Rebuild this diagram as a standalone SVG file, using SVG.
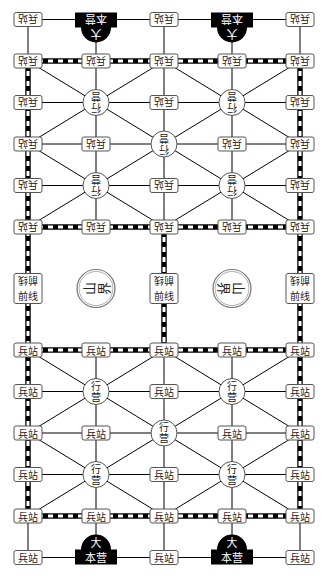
<svg xmlns="http://www.w3.org/2000/svg" width="330" height="578" viewBox="0 0 330 578">
<defs>
<style>
.ln{stroke:#000;stroke-width:1;fill:none}
.rb{stroke:#000;stroke-width:5.5;fill:none}
.rw{stroke:#fff;stroke-width:3;stroke-dasharray:5 5;fill:none}
.box{fill:#fff;stroke:#555;stroke-width:1}
.camp{fill:#fff;stroke:#555;stroke-width:1}
.hq{fill:#000}
.mo{fill:#fff;stroke:#777;stroke-width:1.2}
.mi{fill:none;stroke:#999;stroke-width:0.8}
.t{font-family:"Noto Sans CJK SC","Noto Sans",sans-serif;font-size:10px;text-anchor:middle;dominant-baseline:central;fill:#222}
.tc{font-family:"Noto Sans CJK SC","Noto Sans",sans-serif;font-size:10px;text-anchor:middle;writing-mode:vertical-rl;letter-spacing:1px;fill:#222}
.tw{font-family:"Noto Sans CJK SC","Noto Sans",sans-serif;font-size:11px;text-anchor:middle;dominant-baseline:central;fill:#fff}
.tm{font-family:"Noto Sans CJK SC","Noto Sans",sans-serif;font-size:13px;text-anchor:middle;dominant-baseline:central;fill:#222}
</style>
</defs>
<rect width="330" height="578" fill="#fff"/>
<g id="connectors">
<line class="ln" x1="28" y1="19.5" x2="300" y2="19.5"/>
<line class="ln" x1="28" y1="102.5" x2="300" y2="102.5"/>
<line class="ln" x1="28" y1="144" x2="300" y2="144"/>
<line class="ln" x1="28" y1="185.5" x2="300" y2="185.5"/>
<line class="ln" x1="28" y1="19.5" x2="28" y2="61"/>
<line class="ln" x1="96" y1="19.5" x2="96" y2="61"/>
<line class="ln" x1="164" y1="19.5" x2="164" y2="61"/>
<line class="ln" x1="232" y1="19.5" x2="232" y2="61"/>
<line class="ln" x1="300" y1="19.5" x2="300" y2="61"/>
<line class="ln" x1="96" y1="61" x2="96" y2="227"/>
<line class="ln" x1="164" y1="61" x2="164" y2="227"/>
<line class="ln" x1="232" y1="61" x2="232" y2="227"/>
<line class="ln" x1="28" y1="61" x2="300" y2="227"/>
<line class="ln" x1="300" y1="61" x2="28" y2="227"/>
<line class="ln" x1="164" y1="61" x2="28" y2="144"/>
<line class="ln" x1="164" y1="61" x2="300" y2="144"/>
<line class="ln" x1="28" y1="144" x2="164" y2="227"/>
<line class="ln" x1="300" y1="144" x2="164" y2="227"/>
<line class="ln" x1="28" y1="391.5" x2="300" y2="391.5"/>
<line class="ln" x1="28" y1="433" x2="300" y2="433"/>
<line class="ln" x1="28" y1="474.5" x2="300" y2="474.5"/>
<line class="ln" x1="28" y1="557.5" x2="300" y2="557.5"/>
<line class="ln" x1="28" y1="516" x2="28" y2="557.5"/>
<line class="ln" x1="96" y1="516" x2="96" y2="557.5"/>
<line class="ln" x1="164" y1="516" x2="164" y2="557.5"/>
<line class="ln" x1="232" y1="516" x2="232" y2="557.5"/>
<line class="ln" x1="300" y1="516" x2="300" y2="557.5"/>
<line class="ln" x1="96" y1="350" x2="96" y2="516"/>
<line class="ln" x1="164" y1="350" x2="164" y2="516"/>
<line class="ln" x1="232" y1="350" x2="232" y2="516"/>
<line class="ln" x1="28" y1="350" x2="300" y2="516"/>
<line class="ln" x1="300" y1="350" x2="28" y2="516"/>
<line class="ln" x1="164" y1="350" x2="28" y2="433"/>
<line class="ln" x1="164" y1="350" x2="300" y2="433"/>
<line class="ln" x1="28" y1="433" x2="164" y2="516"/>
<line class="ln" x1="300" y1="433" x2="164" y2="516"/>
<line class="rb" x1="28" y1="61" x2="300" y2="61"/>
<line class="rw" x1="28" y1="61" x2="300" y2="61"/>
<line class="rb" x1="28" y1="227" x2="300" y2="227"/>
<line class="rw" x1="28" y1="227" x2="300" y2="227"/>
<line class="rb" x1="28" y1="350" x2="300" y2="350"/>
<line class="rw" x1="28" y1="350" x2="300" y2="350"/>
<line class="rb" x1="28" y1="516" x2="300" y2="516"/>
<line class="rw" x1="28" y1="516" x2="300" y2="516"/>
<line class="rb" x1="28" y1="61" x2="28" y2="516"/>
<line class="rw" x1="28" y1="61" x2="28" y2="516"/>
<line class="rb" x1="300" y1="61" x2="300" y2="516"/>
<line class="rw" x1="300" y1="61" x2="300" y2="516"/>
<line class="rb" x1="164" y1="227" x2="164" y2="350"/>
<line class="rw" x1="164" y1="227" x2="164" y2="350"/>
</g>

<g id="t-r1c1"><rect class="box" x="14" y="12.5" width="28" height="14" rx="2"/><text class="t" x="28" y="19.5" transform="rotate(180 28 19.5)">兵站</text></g>
<g id="t-hq1" transform="rotate(180 96 19.5)"><path class="hq" d="M75 26.5V11.5H81A15 15 0 0 1 111 11.5H117V26.5Z"/><text class="tw" x="96" y="4">大</text><text class="tw" x="96" y="19">本营</text></g>
<g id="t-r1c3"><rect class="box" x="150" y="12.5" width="28" height="14" rx="2"/><text class="t" x="164" y="19.5" transform="rotate(180 164 19.5)">兵站</text></g>
<g id="t-hq2" transform="rotate(180 232 19.5)"><path class="hq" d="M211 26.5V11.5H217A15 15 0 0 1 247 11.5H253V26.5Z"/><text class="tw" x="232" y="4">大</text><text class="tw" x="232" y="19">本营</text></g>
<g id="t-r1c5"><rect class="box" x="286" y="12.5" width="28" height="14" rx="2"/><text class="t" x="300" y="19.5" transform="rotate(180 300 19.5)">兵站</text></g>

<g id="t-r2c1"><rect class="box" x="14" y="54" width="28" height="14" rx="2"/><text class="t" x="28" y="61" transform="rotate(180 28 61)">兵站</text></g>
<g id="t-r2c2"><rect class="box" x="82" y="54" width="28" height="14" rx="2"/><text class="t" x="96" y="61" transform="rotate(180 96 61)">兵站</text></g>
<g id="t-r2c3"><rect class="box" x="150" y="54" width="28" height="14" rx="2"/><text class="t" x="164" y="61" transform="rotate(180 164 61)">兵站</text></g>
<g id="t-r2c4"><rect class="box" x="218" y="54" width="28" height="14" rx="2"/><text class="t" x="232" y="61" transform="rotate(180 232 61)">兵站</text></g>
<g id="t-r2c5"><rect class="box" x="286" y="54" width="28" height="14" rx="2"/><text class="t" x="300" y="61" transform="rotate(180 300 61)">兵站</text></g>

<g id="t-r3c1"><rect class="box" x="14" y="95.5" width="28" height="14" rx="2"/><text class="t" x="28" y="102.5" transform="rotate(180 28 102.5)">兵站</text></g>
<g id="t-r3c2" transform="rotate(180 96 102.5)"><circle class="camp" cx="96" cy="102.5" r="13"/><text class="tc" x="96" y="103">行营</text></g>
<g id="t-r3c3"><rect class="box" x="150" y="95.5" width="28" height="14" rx="2"/><text class="t" x="164" y="102.5" transform="rotate(180 164 102.5)">兵站</text></g>
<g id="t-r3c4" transform="rotate(180 232 102.5)"><circle class="camp" cx="232" cy="102.5" r="13"/><text class="tc" x="232" y="103">行营</text></g>
<g id="t-r3c5"><rect class="box" x="286" y="95.5" width="28" height="14" rx="2"/><text class="t" x="300" y="102.5" transform="rotate(180 300 102.5)">兵站</text></g>

<g id="t-r4c1"><rect class="box" x="14" y="137" width="28" height="14" rx="2"/><text class="t" x="28" y="144" transform="rotate(180 28 144)">兵站</text></g>
<g id="t-r4c2"><rect class="box" x="82" y="137" width="28" height="14" rx="2"/><text class="t" x="96" y="144" transform="rotate(180 96 144)">兵站</text></g>
<g id="t-r4c3" transform="rotate(180 164 144)"><circle class="camp" cx="164" cy="144" r="13"/><text class="tc" x="164" y="144.5">行营</text></g>
<g id="t-r4c4"><rect class="box" x="218" y="137" width="28" height="14" rx="2"/><text class="t" x="232" y="144" transform="rotate(180 232 144)">兵站</text></g>
<g id="t-r4c5"><rect class="box" x="286" y="137" width="28" height="14" rx="2"/><text class="t" x="300" y="144" transform="rotate(180 300 144)">兵站</text></g>

<g id="t-r5c1"><rect class="box" x="14" y="178.5" width="28" height="14" rx="2"/><text class="t" x="28" y="185.5" transform="rotate(180 28 185.5)">兵站</text></g>
<g id="t-r5c2" transform="rotate(180 96 185.5)"><circle class="camp" cx="96" cy="185.5" r="13"/><text class="tc" x="96" y="186">行营</text></g>
<g id="t-r5c3"><rect class="box" x="150" y="178.5" width="28" height="14" rx="2"/><text class="t" x="164" y="185.5" transform="rotate(180 164 185.5)">兵站</text></g>
<g id="t-r5c4" transform="rotate(180 232 185.5)"><circle class="camp" cx="232" cy="185.5" r="13"/><text class="tc" x="232" y="186">行营</text></g>
<g id="t-r5c5"><rect class="box" x="286" y="178.5" width="28" height="14" rx="2"/><text class="t" x="300" y="185.5" transform="rotate(180 300 185.5)">兵站</text></g>

<g id="t-r6c1"><rect class="box" x="14" y="220" width="28" height="14" rx="2"/><text class="t" x="28" y="227" transform="rotate(180 28 227)">兵站</text></g>
<g id="t-r6c2"><rect class="box" x="82" y="220" width="28" height="14" rx="2"/><text class="t" x="96" y="227" transform="rotate(180 96 227)">兵站</text></g>
<g id="t-r6c3"><rect class="box" x="150" y="220" width="28" height="14" rx="2"/><text class="t" x="164" y="227" transform="rotate(180 164 227)">兵站</text></g>
<g id="t-r6c4"><rect class="box" x="218" y="220" width="28" height="14" rx="2"/><text class="t" x="232" y="227" transform="rotate(180 232 227)">兵站</text></g>
<g id="t-r6c5"><rect class="box" x="286" y="220" width="28" height="14" rx="2"/><text class="t" x="300" y="227" transform="rotate(180 300 227)">兵站</text></g>

<g id="front-1"><rect class="box" x="14" y="273.5" width="28" height="30" rx="2"/><text class="t" x="28" y="281.5" transform="rotate(180 28 281.5)">前线</text><text class="t" x="28" y="295.5">前线</text></g>
<g id="mountain-1"><circle class="mo" cx="96" cy="288.5" r="19"/><circle class="mi" cx="96" cy="288.5" r="17"/><text class="tm" x="88.5" y="288.5" transform="rotate(-90 88.5 288.5)">山</text><text class="tm" x="103.5" y="288.5" transform="rotate(-90 103.5 288.5)">界</text></g>
<g id="front-2"><rect class="box" x="150" y="273.5" width="28" height="30" rx="2"/><text class="t" x="164" y="281.5" transform="rotate(180 164 281.5)">前线</text><text class="t" x="164" y="295.5">前线</text></g>
<g id="mountain-2"><circle class="mo" cx="232" cy="288.5" r="19"/><circle class="mi" cx="232" cy="288.5" r="17"/><text class="tm" x="224.5" y="288.5" transform="rotate(90 224.5 288.5)">界</text><text class="tm" x="239.5" y="288.5" transform="rotate(90 239.5 288.5)">山</text></g>
<g id="front-3"><rect class="box" x="286" y="273.5" width="28" height="30" rx="2"/><text class="t" x="300" y="281.5" transform="rotate(180 300 281.5)">前线</text><text class="t" x="300" y="295.5">前线</text></g>

<g id="b-r7c1"><rect class="box" x="14" y="343" width="28" height="14" rx="2"/><text class="t" x="28" y="350">兵站</text></g>
<g id="b-r7c2"><rect class="box" x="82" y="343" width="28" height="14" rx="2"/><text class="t" x="96" y="350">兵站</text></g>
<g id="b-r7c3"><rect class="box" x="150" y="343" width="28" height="14" rx="2"/><text class="t" x="164" y="350">兵站</text></g>
<g id="b-r7c4"><rect class="box" x="218" y="343" width="28" height="14" rx="2"/><text class="t" x="232" y="350">兵站</text></g>
<g id="b-r7c5"><rect class="box" x="286" y="343" width="28" height="14" rx="2"/><text class="t" x="300" y="350">兵站</text></g>

<g id="b-r8c1"><rect class="box" x="14" y="384.5" width="28" height="14" rx="2"/><text class="t" x="28" y="391.5">兵站</text></g>
<g id="b-r8c2"><circle class="camp" cx="96" cy="391.5" r="13"/><text class="tc" x="96" y="392">行营</text></g>
<g id="b-r8c3"><rect class="box" x="150" y="384.5" width="28" height="14" rx="2"/><text class="t" x="164" y="391.5">兵站</text></g>
<g id="b-r8c4"><circle class="camp" cx="232" cy="391.5" r="13"/><text class="tc" x="232" y="392">行营</text></g>
<g id="b-r8c5"><rect class="box" x="286" y="384.5" width="28" height="14" rx="2"/><text class="t" x="300" y="391.5">兵站</text></g>

<g id="b-r9c1"><rect class="box" x="14" y="426" width="28" height="14" rx="2"/><text class="t" x="28" y="433">兵站</text></g>
<g id="b-r9c2"><rect class="box" x="82" y="426" width="28" height="14" rx="2"/><text class="t" x="96" y="433">兵站</text></g>
<g id="b-r9c3"><circle class="camp" cx="164" cy="433" r="13"/><text class="tc" x="164" y="433.5">行营</text></g>
<g id="b-r9c4"><rect class="box" x="218" y="426" width="28" height="14" rx="2"/><text class="t" x="232" y="433">兵站</text></g>
<g id="b-r9c5"><rect class="box" x="286" y="426" width="28" height="14" rx="2"/><text class="t" x="300" y="433">兵站</text></g>

<g id="b-r10c1"><rect class="box" x="14" y="467.5" width="28" height="14" rx="2"/><text class="t" x="28" y="474.5">兵站</text></g>
<g id="b-r10c2"><circle class="camp" cx="96" cy="474.5" r="13"/><text class="tc" x="96" y="475">行营</text></g>
<g id="b-r10c3"><rect class="box" x="150" y="467.5" width="28" height="14" rx="2"/><text class="t" x="164" y="474.5">兵站</text></g>
<g id="b-r10c4"><circle class="camp" cx="232" cy="474.5" r="13"/><text class="tc" x="232" y="475">行营</text></g>
<g id="b-r10c5"><rect class="box" x="286" y="467.5" width="28" height="14" rx="2"/><text class="t" x="300" y="474.5">兵站</text></g>

<g id="b-r11c1"><rect class="box" x="14" y="509" width="28" height="14" rx="2"/><text class="t" x="28" y="516">兵站</text></g>
<g id="b-r11c2"><rect class="box" x="82" y="509" width="28" height="14" rx="2"/><text class="t" x="96" y="516">兵站</text></g>
<g id="b-r11c3"><rect class="box" x="150" y="509" width="28" height="14" rx="2"/><text class="t" x="164" y="516">兵站</text></g>
<g id="b-r11c4"><rect class="box" x="218" y="509" width="28" height="14" rx="2"/><text class="t" x="232" y="516">兵站</text></g>
<g id="b-r11c5"><rect class="box" x="286" y="509" width="28" height="14" rx="2"/><text class="t" x="300" y="516">兵站</text></g>

<g id="b-r12c1"><rect class="box" x="14" y="550.5" width="28" height="14" rx="2"/><text class="t" x="28" y="557.5">兵站</text></g>
<g id="b-hq1"><path class="hq" d="M75 564.5V549.5H81A15 15 0 0 1 111 549.5H117V564.5Z"/><text class="tw" x="96" y="542">大</text><text class="tw" x="96" y="557">本营</text></g>
<g id="b-r12c3"><rect class="box" x="150" y="550.5" width="28" height="14" rx="2"/><text class="t" x="164" y="557.5">兵站</text></g>
<g id="b-hq2"><path class="hq" d="M211 564.5V549.5H217A15 15 0 0 1 247 549.5H253V564.5Z"/><text class="tw" x="232" y="542">大</text><text class="tw" x="232" y="557">本营</text></g>
<g id="b-r12c5"><rect class="box" x="286" y="550.5" width="28" height="14" rx="2"/><text class="t" x="300" y="557.5">兵站</text></g>
</svg>
